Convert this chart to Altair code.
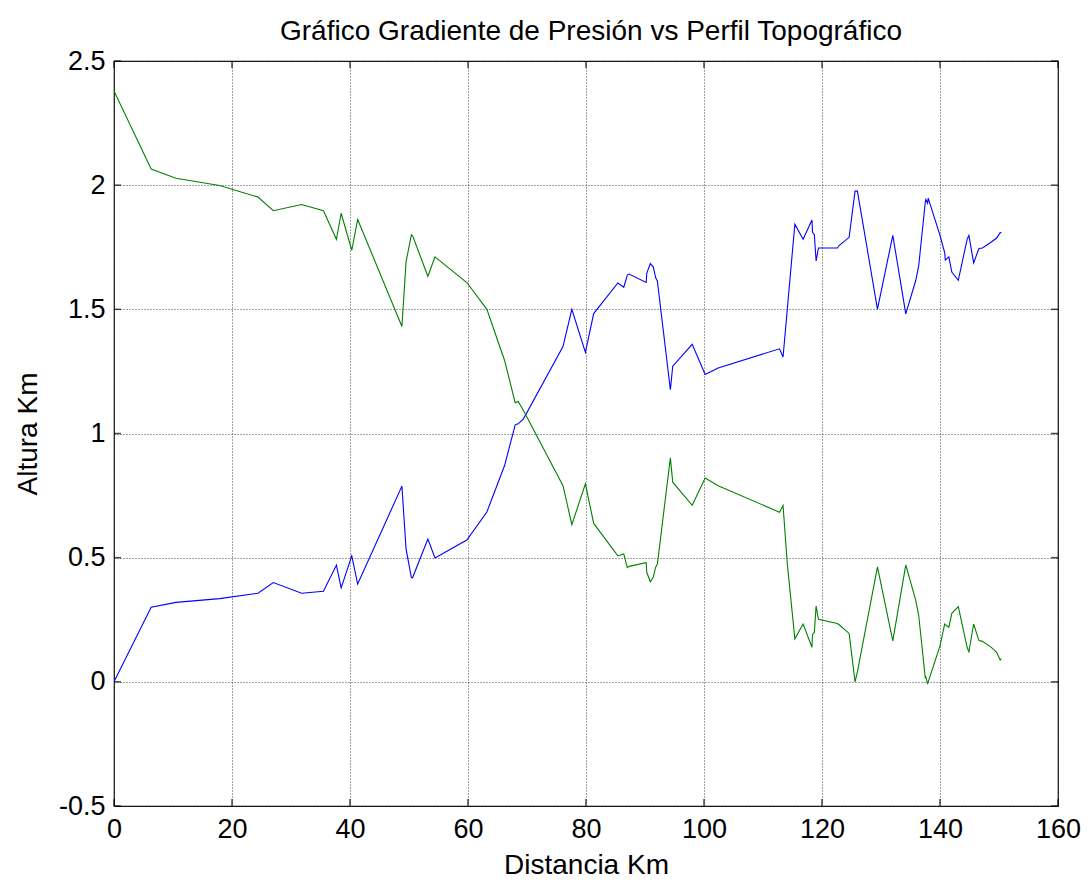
import altair as alt
import pandas as pd

# Distance along the profile (km)
distancia = [
    0.0, 6.3, 10.5, 17.9, 24.4, 27.0, 31.8, 35.5, 37.7, 38.5, 40.3, 41.3,
    48.8, 49.5, 50.4, 50.6, 53.2, 54.4, 59.8, 63.2, 66.2, 68.0, 68.5, 69.4,
    76.1, 77.6, 79.9, 81.3, 85.4, 86.4, 87.0, 87.3, 90.2, 90.3, 90.9, 91.4,
    91.8, 92.1, 94.3, 94.7, 98.0, 100.2, 102.4, 112.8, 113.4, 114.1, 115.4,
    116.8, 118.3, 118.4, 118.7, 119.0, 119.4, 122.6, 122.9, 124.6, 125.6,
    126.0, 129.4, 132.0, 134.2, 135.9, 136.4, 137.5, 137.6, 137.9, 138.0,
    140.0, 140.8, 140.9, 141.5, 142.0, 143.1, 144.6, 144.9, 145.7, 146.6,
    147.2, 148.7, 149.6, 150.2, 150.4,
]

# Topographic profile (km)
perfil = [
    0.00, 0.30, 0.32, 0.335, 0.357, 0.400, 0.357, 0.365, 0.470, 0.378, 0.507, 0.394,
    0.788, 0.535, 0.420, 0.419, 0.575, 0.499, 0.571, 0.684, 0.871, 1.035, 1.039, 1.059,
    1.350, 1.500, 1.327, 1.483, 1.606, 1.589, 1.638, 1.642, 1.608, 1.645, 1.684, 1.671,
    1.628, 1.613, 1.176, 1.271, 1.359, 1.238, 1.264, 1.341, 1.308, 1.496, 1.843,
    1.782, 1.860, 1.810, 1.801, 1.695, 1.747, 1.747, 1.757, 1.790, 1.976,
    1.976, 1.501, 1.798, 1.482, 1.617, 1.677, 1.930, 1.942, 1.927, 1.948,
    1.798, 1.727, 1.698, 1.711, 1.650, 1.617, 1.782, 1.798, 1.687, 1.745,
    1.747, 1.771, 1.787, 1.809, 1.809,
]

# Pressure gradient (scaled to km)
gradiente = [
    2.379, 2.065, 2.028, 1.999, 1.952, 1.897, 1.922, 1.897, 1.782, 1.887, 1.738, 1.862,
    1.431, 1.691, 1.800, 1.797, 1.633, 1.711, 1.608, 1.500, 1.294, 1.124, 1.129, 1.093,
    0.790, 0.633, 0.797, 0.638, 0.507, 0.515, 0.460, 0.465, 0.480, 0.441, 0.403, 0.421,
    0.461, 0.474, 0.902, 0.804, 0.711, 0.821, 0.790, 0.683, 0.710, 0.480, 0.173,
    0.233, 0.139, 0.192, 0.199, 0.305, 0.252, 0.235, 0.230, 0.195, 0.000,
    0.040, 0.463, 0.165, 0.471, 0.327, 0.266, 0.017, 0.020, -0.009, 0.000,
    0.145, 0.233, 0.230, 0.220, 0.276, 0.303, 0.139, 0.121, 0.233, 0.166,
    0.163, 0.139, 0.119, 0.088, 0.094,
]

x_ticks = [0, 20, 40, 60, 80, 100, 120, 140, 160]
y_ticks = [-0.5, 0, 0.5, 1, 1.5, 2, 2.5]

W, H = 944, 745
FONT = "Liberation Sans"

df = pd.DataFrame({
    "distancia": distancia * 2,
    "valor": perfil + gradiente,
    "serie": ["Perfil"] * len(distancia) + ["Gradiente"] * len(distancia),
})

x_scale = alt.Scale(domain=[0, 160], nice=False, zero=False)
y_scale = alt.Scale(domain=[-0.5, 2.5], nice=False, zero=False)

x_axis = alt.Axis(
    values=x_ticks, title="Distancia Km", grid=True, ticks=False, domain=False,
    labelFontSize=27, labelPadding=10, labelFlush=False,
    titleFontSize=28, titlePadding=9,
    labelExpr="datum.value + ''",
)
y_axis = alt.Axis(
    values=y_ticks, title="Altura Km", grid=True, ticks=False, domain=False,
    labelFontSize=27, labelPadding=9, labelFlush=False,
    titleFontSize=28, titlePadding=16,
    labelExpr="datum.value + ''",
)

lines = alt.Chart(df).mark_line(strokeWidth=1.1, clip=True).encode(
    x=alt.X("distancia:Q", scale=x_scale, axis=x_axis),
    y=alt.Y("valor:Q", scale=y_scale, axis=y_axis),
    color=alt.Color(
        "serie:N",
        scale=alt.Scale(domain=["Perfil", "Gradiente"], range=["#0000ff", "#008000"]),
        legend=None,
    ),
    detail="serie:N",
    order="distancia:Q",
)

xt = pd.DataFrame({"t": x_ticks})
yt = pd.DataFrame({"t": y_ticks})

# Inward tick marks on all four sides of the frame
def xticks_at(ypix):
    return alt.Chart(xt).mark_tick(orient="vertical", color="black", size=7, thickness=1.5).encode(
        x=alt.X("t:Q", scale=x_scale, axis=x_axis), y=alt.value(ypix)
    )

def yticks_at(xpix):
    return alt.Chart(yt).mark_tick(orient="horizontal", color="black", size=7, thickness=1.5).encode(
        y=alt.Y("t:Q", scale=y_scale, axis=y_axis), x=alt.value(xpix)
    )

chart = alt.layer(
    lines, xticks_at(H - 3.5), xticks_at(3.5), yticks_at(3.5), yticks_at(W - 3.5)
).properties(
    width=W,
    height=H,
    title=alt.TitleParams(
        "Gráfico Gradiente de Presión vs Perfil Topográfico",
        fontSize=28, font=FONT, fontWeight="normal", color="black", offset=1,
        anchor="middle", dx=5,
    ),
    autosize=alt.AutoSizeParams(type="none"),
    padding={"left": 114, "top": 61, "right": 30, "bottom": 78},
).configure(
    font=FONT,
).configure_view(
    stroke="black", strokeWidth=1.2,
).configure_axis(
    labelFont=FONT, titleFont=FONT, labelColor="black", titleColor="black",
    titleFontWeight="normal",
    gridColor="#444444", gridDash=[1, 2], gridWidth=1, gridOpacity=1,
)

chart.save("out.html", embed_options={"renderer": "svg", "actions": False})
